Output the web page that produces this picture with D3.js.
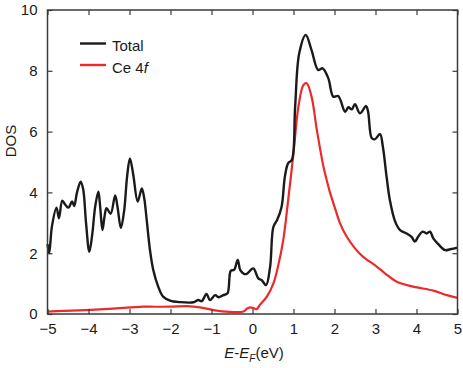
<!DOCTYPE html>
<html><head><meta charset="utf-8">
<script src="https://cdn.jsdelivr.net/npm/d3@7"></script>
<style>body{margin:0;background:#fff}svg{display:block;font-family:"Liberation Sans",Arial,sans-serif}</style>
</head><body><svg id="c" width="463" height="368"></svg>
<script>
const xTicks = [-5,-4,-3,-2,-1,0,1,2,3,4,5];
const yTicks = [0,2,4,6,8,10];
const totalE = [-5.0,-4.96,-4.89,-4.78,-4.72,-4.64,-4.57,-4.49,-4.40,-4.35,-4.28,-4.19,-4.13,-4.06,-3.98,-3.91,-3.84,-3.76,-3.72,-3.66,-3.61,-3.56,-3.46,-3.35,-3.29,-3.21,-3.13,-3.06,-2.99,-2.91,-2.80,-2.70,-2.64,-2.58,-2.50,-2.42,-2.30,-2.18,-2.01,-1.77,-1.44,-1.32,-1.24,-1.12,-1.04,-0.91,-0.83,-0.71,-0.61,-0.53,-0.45,-0.36,-0.30,-0.21,-0.14,0.02,0.14,0.22,0.33,0.43,0.51,0.60,0.71,0.79,0.87,0.96,1.04,1.14,1.30,1.44,1.60,1.71,1.85,1.97,2.09,2.26,2.34,2.42,2.50,2.62,2.77,2.82,2.91,2.99,3.11,3.18,3.27,3.35,3.48,3.60,3.76,3.88,3.96,4.04,4.15,4.25,4.33,4.41,4.53,4.70,4.82,5.0];
const totalV = [2.3,2.0,2.9,3.5,3.15,3.73,3.6,3.5,3.7,3.55,4.0,4.35,4.1,3.0,2.05,2.6,3.5,4.02,3.6,2.76,3.2,3.48,3.3,3.9,3.5,2.83,3.4,4.5,5.12,4.6,3.7,4.13,3.8,3.09,2.1,1.45,0.9,0.57,0.44,0.39,0.385,0.46,0.42,0.66,0.46,0.62,0.55,0.62,0.68,1.42,1.45,1.78,1.45,1.32,1.32,1.5,1.17,1.12,0.95,1.56,2.87,3.09,3.53,4.52,4.96,5.07,6.82,8.58,9.18,8.68,8.03,8.08,7.75,7.15,7.17,6.65,6.8,6.73,6.9,6.6,6.84,6.65,5.78,5.75,5.92,5.5,4.52,3.75,3.04,2.76,2.65,2.54,2.38,2.54,2.71,2.65,2.71,2.49,2.3,2.1,2.13,2.18];
const ceE = [-5.0,-3.72,-2.66,-2.50,-2.01,-1.60,-1.28,-0.96,-0.55,-0.22,-0.13,-0.06,0.01,0.10,0.18,0.35,0.51,0.63,0.75,0.87,1.00,1.12,1.24,1.32,1.44,1.57,1.73,1.82,1.90,2.02,2.13,2.30,2.50,2.70,3.03,3.23,3.52,3.92,4.41,4.74,5.0];
const ceV = [0.08,0.15,0.24,0.24,0.24,0.26,0.22,0.13,0.07,0.08,0.18,0.22,0.2,0.16,0.3,0.57,1.01,1.61,2.43,3.75,5.29,6.82,7.53,7.59,7.15,6.05,4.85,4.35,3.95,3.45,3.0,2.54,2.16,1.88,1.56,1.34,1.06,0.9,0.77,0.62,0.53];
const seriesNames = ["Total","Ce 4f"];
const seriesColors = ["#1a1a1a","#ec2a2c"];

const L=47.5,R=457.5,T=10,B=314;
const svg=d3.select("#c");
const x=d3.scaleLinear().domain([-5,5]).range([L,R]);
const y=d3.scaleLinear().domain([0,10]).range([B,T]);
const axisCol="#3a3a3a";

const line=d3.line().x(d=>x(d[0])).y(d=>y(d[1])).curve(d3.curveCatmullRom.alpha(0.5));
svg.append("path").datum(ceE.map((e,i)=>[e,ceV[i]])).attr("d",line)
  .attr("fill","none").attr("stroke",seriesColors[1]).attr("stroke-width",2.2);
svg.append("path").datum(totalE.map((e,i)=>[e,totalV[i]])).attr("d",line)
  .attr("fill","none").attr("stroke",seriesColors[0]).attr("stroke-width",2.4).attr("stroke-linejoin","round");

function styleAxis(g){g.select(".domain").remove();g.selectAll(".tick line").attr("stroke",axisCol).attr("stroke-width",1.2);
  g.selectAll(".tick text").attr("fill","#1a1a1a").style("font-size","15px").style("font-family","Liberation Sans, Arial, sans-serif");}
svg.append("g").attr("transform",`translate(0,${B})`).call(d3.axisBottom(x).tickValues(xTicks).tickSize(-5).tickPadding(9).tickFormat(d3.format("d"))).call(styleAxis);
svg.append("g").attr("transform",`translate(0,${T})`).call(d3.axisTop(x).tickValues(xTicks).tickSize(-5).tickFormat("")).call(styleAxis);
svg.append("g").attr("transform",`translate(${L},0)`).call(d3.axisLeft(y).tickValues(yTicks).tickSize(-5).tickPadding(10).tickFormat(d3.format("d"))).call(styleAxis);
svg.append("g").attr("transform",`translate(${R},0)`).call(d3.axisRight(y).tickValues(yTicks).tickSize(-5).tickFormat("")).call(styleAxis);
svg.append("rect").attr("x",L).attr("y",T).attr("width",R-L).attr("height",B-T)
  .attr("fill","none").attr("stroke",axisCol).attr("stroke-width",1.5);

// legend
const lg=svg.append("g");
[0,1].forEach(i=>{
  const yy=43.5+i*21.5;
  lg.append("line").attr("x1",80).attr("x2",106).attr("y1",yy).attr("y2",yy).attr("stroke",seriesColors[i]).attr("stroke-width",2.4);
});
lg.append("text").attr("x",112).attr("y",51).style("font-size","15px").attr("fill","#1a1a1a").text(seriesNames[0]);
const t2=lg.append("text").attr("x",112).attr("y",72.5).style("font-size","15px").attr("fill","#1a1a1a");
t2.append("tspan").text("Ce 4");
t2.append("tspan").style("font-style","italic").text("f");

// axis titles
const xt=svg.append("text").attr("x",254).attr("y",358).attr("text-anchor","middle").style("font-size","15px").attr("fill","#1a1a1a");
xt.append("tspan").style("font-style","italic").text("E");
xt.append("tspan").text("-");
xt.append("tspan").style("font-style","italic").text("E");
xt.append("tspan").style("font-style","italic").style("font-size","10px").attr("dy",4).text("F");
xt.append("tspan").attr("dy",-4).text("(eV)");
svg.append("text").attr("transform","translate(16,141) rotate(-90)").attr("text-anchor","middle").style("font-size","15px").attr("fill","#1a1a1a").text("DOS");
</script></body></html>
